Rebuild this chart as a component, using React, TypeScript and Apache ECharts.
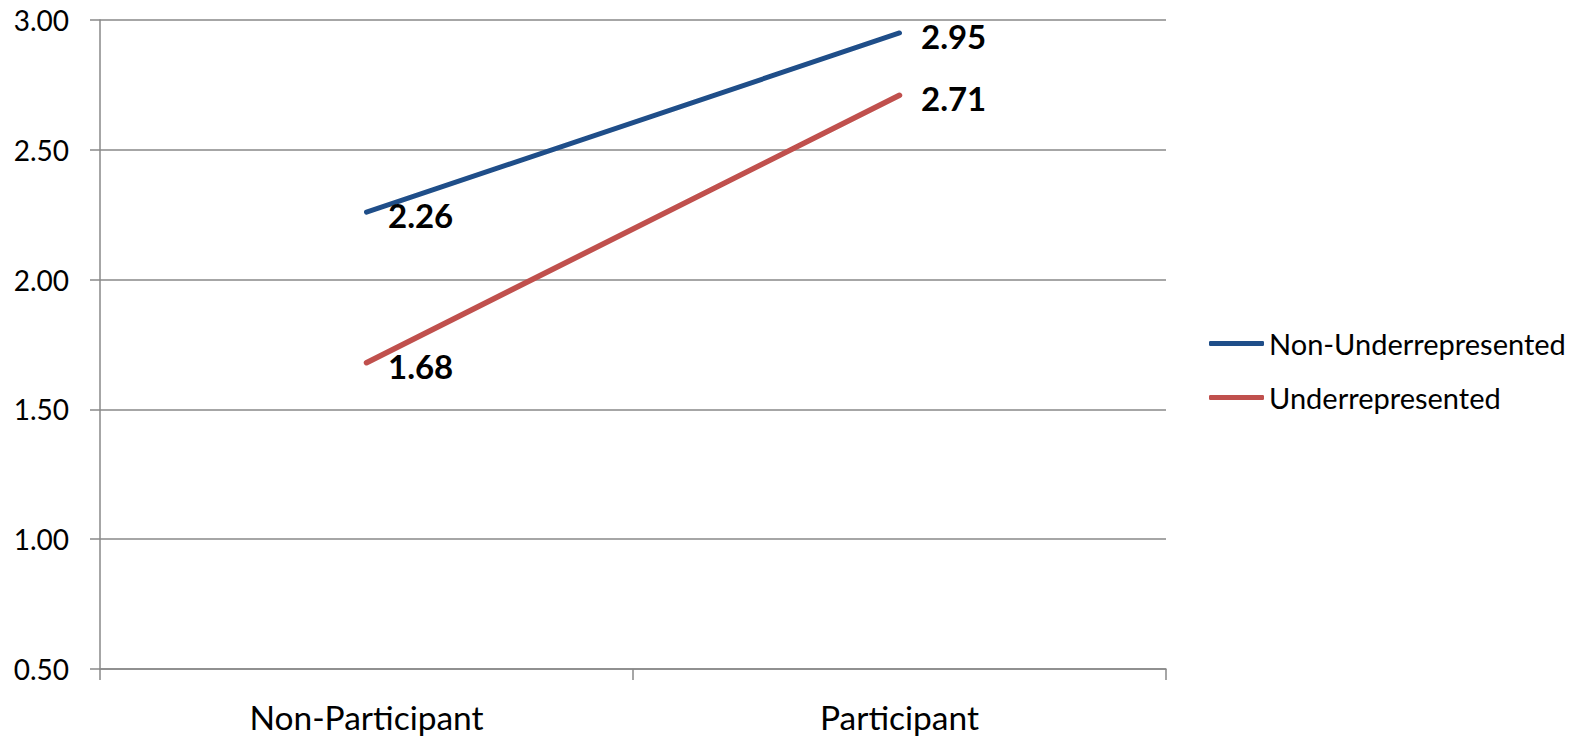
import React, { useEffect, useRef } from "react";
import * as echarts from "echarts";

const categories = ["Non-Participant", "Participant"];
const nonUnderrepresented = [2.26, 2.95];
const underrepresented = [1.68, 2.71];
const seriesNames = ["Non-Underrepresented", "Underrepresented"];
const yTicks = { min: 0.5, max: 3, interval: 0.5 };

const FONT = "Lato";
const BLUE = "#1F4E89";
const RED = "#C0504D";
const GREY = "#898989";

export default function App() {
  const ref = useRef<HTMLDivElement>(null);
  useEffect(() => {
    const chart = echarts.init(ref.current!, undefined, { renderer: "svg" });
    const labelStyle = {
      show: true,
      position: "right",
      distance: 21,
      offset: [0, 3],
      fontFamily: FONT,
      fontWeight: "bold",
      fontSize: 33,
      color: "#000",
      formatter: (p: any) => Number(p.value).toFixed(2),
    };
    chart.setOption({
      animation: false,
      backgroundColor: "#fff",
      grid: { left: 100, right: 416, top: 20, bottom: 67, containLabel: false },
      legend: {
        orient: "vertical",
        left: 1204,
        top: 324,
        icon: "roundRect",
        itemWidth: 55,
        itemHeight: 5,
        itemGap: 25,
        textStyle: { fontFamily: FONT, fontSize: 29, color: "#000" },
        data: seriesNames,
      },
      xAxis: {
        type: "category",
        data: categories,
        boundaryGap: true,
        axisLine: { lineStyle: { color: GREY, width: 1.5 } },
        axisTick: { show: true, length: 11, lineStyle: { color: GREY, width: 1.5 } },
        axisLabel: { fontFamily: FONT, fontSize: 33.5, lineHeight: 33, color: "#000", margin: 31 },
        splitLine: { show: false },
      },
      yAxis: {
        type: "value",
        min: yTicks.min,
        max: yTicks.max,
        interval: yTicks.interval,
        axisLine: { show: true, lineStyle: { color: GREY, width: 1.5 } },
        axisTick: { show: true, length: 10, lineStyle: { color: GREY, width: 1.5 } },
        axisLabel: {
          fontFamily: FONT,
          fontSize: 28,
          color: "#000",
          margin: 31,
          formatter: (v: number) => v.toFixed(2),
        },
        splitLine: { show: true, lineStyle: { color: GREY, width: 1.5 } },
      },
      series: [
        {
          name: seriesNames[0],
          type: "line",
          data: nonUnderrepresented,
          symbol: "circle",
          symbolSize: 1,
          showSymbol: true,
          lineStyle: { color: BLUE, width: 5, cap: "round" },
          itemStyle: { color: BLUE },
          label: labelStyle,
        },
        {
          name: seriesNames[1],
          type: "line",
          data: underrepresented,
          symbol: "circle",
          symbolSize: 1,
          showSymbol: true,
          lineStyle: { color: RED, width: 5.5, cap: "round" },
          itemStyle: { color: RED },
          label: labelStyle,
        },
      ],
    });
    return () => chart.dispose();
  }, []);
  return (
    <div
      ref={ref}
      style={{ position: "fixed", left: 0, top: 0, width: 1582, height: 736 }}
    />
  );
}
